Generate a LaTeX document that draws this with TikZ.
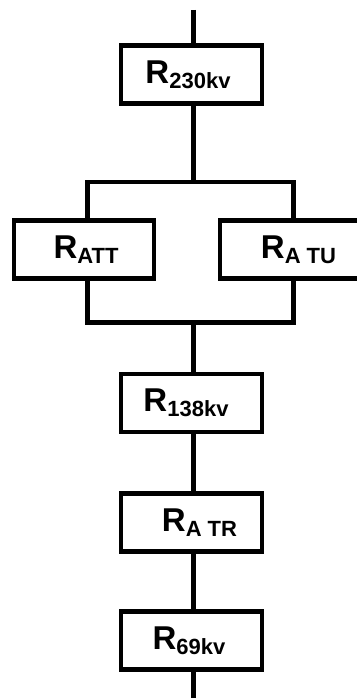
\documentclass[tikz,border=0pt]{standalone}
\usepackage{fontspec}
\setmainfont{Liberation Sans}
\newcommand{\Rlab}[1]{\raisebox{1.5pt}{{\fontsize{33}{33}\selectfont\bfseries R}\raisebox{-5pt}{\fontsize{22}{22}\selectfont\bfseries #1}}}
\begin{document}
\begin{tikzpicture}[x=1pt,y=-1pt,
  blk/.style={draw=black,line width=4.5pt,rectangle,inner sep=0pt,minimum width=141pt,minimum height=58pt,align=center},
  wire/.style={draw=black,line width=4.5pt}]
\useasboundingbox (0,0) rectangle (356,698);
\node[blk] (b230) at (191.5,74.5) {\Rlab{230kv}\hspace*{7pt}};
\node[blk,minimum width=140pt] (batt) at (84,249.5) {\hspace*{4pt}\Rlab{ATT}};
\node[blk,minimum width=140pt] (batu) at (290,249.5) {\hspace*{17pt}\Rlab{A TU}};
\node[blk] (b138) at (191.5,403) {\Rlab{138kv}\hspace*{11pt}};
\node[blk] (batr) at (191.5,522.5) {\hspace*{16pt}\Rlab{A TR}};
\node[blk] (b69) at (191.5,640.5) {\Rlab{69kv}\hspace*{5pt}};
\coordinate (top) at (193.5,10);
\coordinate (bot) at (193.5,702);
\coordinate (s1) at (193.5,182);
\coordinate (s1l) at (87.5,182);
\coordinate (s1r) at (293.5,182);
\coordinate (s2) at (193.5,322.5);
\coordinate (s2l) at (87.5,322.5);
\coordinate (s2r) at (293.5,322.5);
\draw[wire] (top) -- (top |- b230.north);
\draw[wire] (s1 |- b230.south) -- (s1);
\draw[wire,line join=miter] (s1l |- batt.north) -- (s1l) -- (s1r) -- (s1r |- batu.north);
\draw[wire,line join=miter] (s2l |- batt.south) -- (s2l) -- (s2r) -- (s2r |- batu.south);
\draw[wire] (s2) -- (s2 |- b138.north);
\draw[wire] (s2 |- b138.south) -- (s2 |- batr.north);
\draw[wire] (s2 |- batr.south) -- (s2 |- b69.north);
\draw[wire] (s2 |- b69.south) -- (bot);
\end{tikzpicture}
\end{document}
